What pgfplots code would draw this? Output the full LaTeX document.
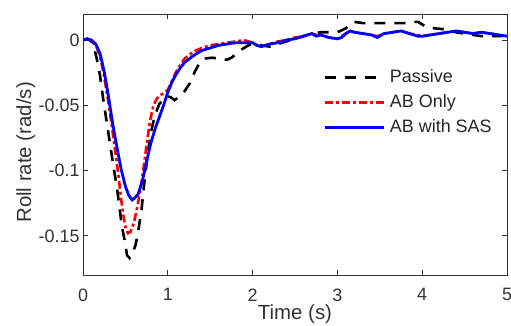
\documentclass[border=0pt]{standalone}
\usepackage{pgfplots}
\pgfplotsset{compat=1.18}
\usepackage{fontspec}
\setmainfont{Liberation Sans}
\begin{document}
\begin{tikzpicture}
\begin{axis}[
  width=424bp, height=261bp, scale only axis,
  xmin=0, xmax=5, ymin=-0.18, ymax=0.02,
  xtick={0,1,2,3,4,5},
  ytick={-0.15,-0.1,-0.05,0},
  yticklabels={-0.15,-0.1,-0.05,0},
  /pgf/number format/assume math mode=true,
  tick align=inside, tick pos=both,
  major tick length=5bp,
  axis line style={draw=black!80, line width=0.8bp},
  every tick/.style={draw=black!80, line width=0.8bp},
  tick label style={font=\fontsize{18}{20}\selectfont, text=black!80},
  xticklabel style={yshift=-10bp},
  xlabel={Time (s)},
  ylabel={Roll rate (rad/s)},
  label style={font=\fontsize{20.5}{22}\selectfont, text=black!80},
  xlabel style={at={(axis description cs:0.5,0)}, anchor=south, yshift=-52bp},
  ylabel style={at={(axis description cs:-0.104,0.47)}, anchor=south},
  legend style={at={(axis description cs:0.566,0.797)}, anchor=north west,
    draw=none, fill=none, inner sep=0pt,
    font=\fontsize{18}{20}\selectfont,
    nodes={inner ysep=2bp, inner xsep=5bp, text height=13bp, text depth=4bp, text=black!85},
    /tikz/row sep=4bp},
  legend cell align=left,
  legend image code/.code={\draw[#1] (0bp,0bp) -- (59bp,0bp);},
]
\addplot[black, line width=2.6bp, dash pattern=on 11bp off 9bp] coordinates {
(0,0) (0.05,0.001) (0.1,-0.001) (0.135,-0.007) (0.165,-0.015) (0.2,-0.027) (0.24,-0.046) (0.28,-0.063) (0.32,-0.080) (0.36,-0.097) (0.4,-0.113) (0.43,-0.128) (0.456,-0.142) (0.49,-0.153) (0.52,-0.165) (0.55,-0.167) (0.58,-0.164) (0.62,-0.157) (0.65,-0.147) (0.69,-0.130) (0.73,-0.105) (0.77,-0.084) (0.81,-0.068) (0.85,-0.057) (0.9,-0.049) (0.95,-0.045) (1.0,-0.043) (1.04,-0.044) (1.08,-0.046) (1.14,-0.043) (1.2,-0.039) (1.26,-0.033) (1.32,-0.024) (1.38,-0.017) (1.45,-0.014) (1.52,-0.0135) (1.58,-0.014) (1.64,-0.015) (1.7,-0.015) (1.75,-0.0135) (1.8,-0.011) (1.85,-0.008) (1.9,-0.006) (1.95,-0.004) (2.0,-0.003) (2.1,-0.004) (2.2,-0.005) (2.3,-0.003) (2.4,-0.001) (2.5,0.001) (2.6,0.003) (2.7,0.005) (2.8,0.006) (2.9,0.006) (3.0,0.006) (3.1,0.009) (3.15,0.012) (3.2,0.014) (3.3,0.013) (3.4,0.013) (3.5,0.013) (3.6,0.013) (3.7,0.013) (3.8,0.013) (3.9,0.014) (3.95,0.014) (4.0,0.012) (4.05,0.010) (4.15,0.009) (4.3,0.008) (4.4,0.006) (4.5,0.005) (4.6,0.004) (4.7,0.003) (4.8,0.003) (4.9,0.003) (5.0,0.003)
};
\addlegendentry{Passive}
\addplot[red, line width=2.6bp, dash pattern=on 8bp off 3bp on 3bp off 3bp] coordinates {
(0,0) (0.05,0.001) (0.1,-0.001) (0.15,-0.004) (0.2,-0.012) (0.25,-0.028) (0.3,-0.048) (0.34,-0.066) (0.38,-0.085) (0.417,-0.103) (0.45,-0.122) (0.475,-0.134) (0.5,-0.143) (0.53,-0.148) (0.56,-0.147) (0.6,-0.140) (0.64,-0.128) (0.67,-0.117) (0.71,-0.100) (0.75,-0.080) (0.79,-0.062) (0.83,-0.050) (0.87,-0.045) (0.91,-0.042) (0.95,-0.041) (1.0,-0.038) (1.05,-0.031) (1.1,-0.024) (1.15,-0.019) (1.2,-0.014) (1.3,-0.009) (1.4,-0.006) (1.5,-0.004) (1.6,-0.003) (1.7,-0.002) (1.8,-0.001) (1.9,0.000) (1.95,-0.001) (2.0,-0.002) (2.05,-0.004) (2.1,-0.005) (2.15,-0.004) (2.2,-0.003) (2.3,-0.001) (2.4,0.000) (2.5,0.002) (2.6,0.003) (2.7,0.005) (2.75,0.004) (2.8,0.004) (2.9,0.002) (3.0,0.001) (3.05,0.003) (3.1,0.005) (3.15,0.007) (3.2,0.006) (3.3,0.005) (3.4,0.004) (3.47,0.003) (3.55,0.005) (3.65,0.006) (3.75,0.007) (3.85,0.005) (3.95,0.004) (4.0,0.003) (4.1,0.004) (4.2,0.005) (4.3,0.006) (4.4,0.007) (4.5,0.006) (4.6,0.005) (4.7,0.006) (4.8,0.005) (4.9,0.004) (5.0,0.003)
};
\addlegendentry{AB Only}
\addplot[blue, line width=2.8bp] coordinates {
(0,0) (0.05,0.001) (0.1,0.0) (0.15,-0.003) (0.2,-0.010) (0.25,-0.024) (0.3,-0.043) (0.35,-0.064) (0.4,-0.082) (0.45,-0.099) (0.5,-0.112) (0.54,-0.119) (0.58,-0.1225) (0.61,-0.121) (0.65,-0.118) (0.7,-0.108) (0.75,-0.093) (0.8,-0.079) (0.85,-0.068) (0.9,-0.059) (0.95,-0.050) (1.0,-0.040) (1.05,-0.032) (1.1,-0.026) (1.15,-0.021) (1.2,-0.017) (1.3,-0.012) (1.4,-0.008) (1.5,-0.006) (1.6,-0.004) (1.7,-0.003) (1.8,-0.002) (1.9,-0.002) (1.95,-0.002) (2.0,-0.002) (2.05,-0.004) (2.1,-0.005) (2.15,-0.004) (2.2,-0.003) (2.3,-0.002) (2.4,0.000) (2.5,0.001) (2.6,0.003) (2.7,0.005) (2.75,0.003) (2.8,0.004) (2.9,0.002) (3.0,0.001) (3.05,0.002) (3.1,0.005) (3.15,0.007) (3.2,0.006) (3.3,0.005) (3.4,0.004) (3.47,0.002) (3.55,0.005) (3.65,0.006) (3.75,0.007) (3.85,0.005) (3.95,0.003) (4.0,0.003) (4.1,0.004) (4.2,0.005) (4.3,0.006) (4.4,0.007) (4.5,0.006) (4.6,0.005) (4.7,0.006) (4.8,0.005) (4.9,0.004) (5.0,0.003)
};
\addlegendentry{AB with SAS}
\end{axis}
\pgfresetboundingbox
\useasboundingbox ([xshift=-83bp,yshift=-50bp]current axis.south west) rectangle ([xshift=4bp,yshift=14bp]current axis.north east);
\end{tikzpicture}
\end{document}
